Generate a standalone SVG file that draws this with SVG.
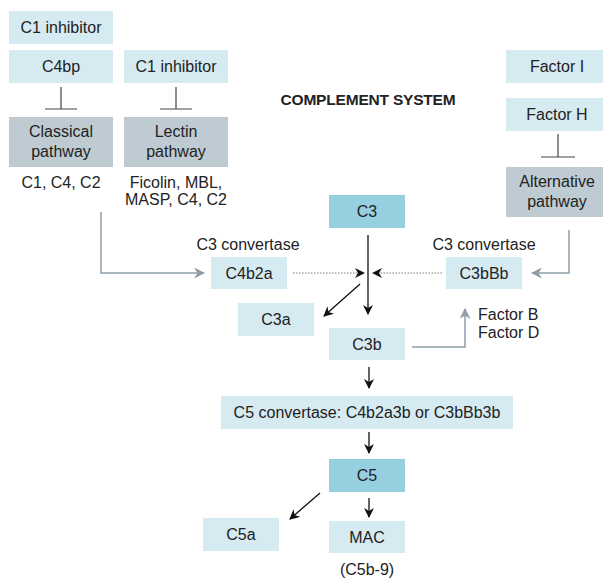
<svg xmlns="http://www.w3.org/2000/svg" width="603" height="580" viewBox="0 0 603 580">
<defs>
<style>
text{font-family:"Liberation Sans",Arial,sans-serif;font-size:16px;fill:#222;text-anchor:middle}
.lb{fill:#d6eaf1}
.db{fill:#96d0e0}
.gp{fill:#bfcbd2}
.title{font-weight:bold;font-size:15.5px;letter-spacing:-0.2px}
.inh{stroke:#444;stroke-width:1.2;fill:none}
.blk{stroke:#111;stroke-width:1.3;fill:none}
.dot{stroke:#777;stroke-width:1.2;stroke-dasharray:1.5 1.5;fill:none}
.gry{stroke:#8d9ea9;stroke-width:1.5;fill:none}
</style>
<marker id="ab" viewBox="0 0 10 10" refX="9" refY="5" markerWidth="10" markerHeight="10" markerUnits="userSpaceOnUse" orient="auto">
<path d="M0,0 L10,5 L0,10 L3,5 Z" fill="#111"/>
</marker>
<marker id="ag" viewBox="0 0 10 10" refX="9" refY="5" markerWidth="11" markerHeight="11" markerUnits="userSpaceOnUse" orient="auto">
<path d="M0,0 L10,5 L0,10 L3,5 Z" fill="#8d9ea9"/>
</marker>
</defs>
<rect width="603" height="580" fill="#fff"/>
<text class="title" x="368" y="105">COMPLEMENT SYSTEM</text>

<g id="c1inh-classical"><rect class="lb" x="9" y="11" width="104" height="33"/><text x="61" y="33">C1 inhibitor</text></g>
<g id="c4bp"><rect class="lb" x="9" y="50" width="104" height="33"/><text x="61" y="72">C4bp</text></g>
<g id="c1inh-lectin"><rect class="lb" x="124" y="50" width="104" height="33"/><text x="176" y="72">C1 inhibitor</text></g>
<g id="classical"><rect class="gp" x="9" y="117" width="104" height="50"/><text x="61" y="137">Classical</text><text x="61" y="157">pathway</text><text x="61" y="188">C1, C4, C2</text></g>
<g id="lectin"><rect class="gp" x="124" y="117" width="104" height="50"/><text x="176" y="137">Lectin</text><text x="176" y="157">pathway</text><text x="176" y="188">Ficolin, MBL,</text><text x="176" y="205">MASP, C4, C2</text></g>
<g id="factorI"><rect class="lb" x="506" y="50" width="97" height="33"/><text x="557" y="72">Factor I</text></g>
<g id="factorH"><rect class="lb" x="506" y="98" width="97" height="33"/><text x="557" y="120">Factor H</text></g>
<g id="alternative"><rect class="gp" x="506" y="167" width="97" height="50"/><text x="557" y="187">Alternative</text><text x="557" y="207">pathway</text></g>
<g id="c3"><rect class="db" x="329" y="195" width="76" height="33"/><text x="367" y="217">C3</text></g>
<g id="c4b2a"><text x="248" y="250">C3 convertase</text><rect class="lb" x="211" y="257" width="76" height="32"/><text x="249" y="279">C4b2a</text></g>
<g id="c3bbb"><text x="484" y="250">C3 convertase</text><rect class="lb" x="446" y="257" width="76" height="32"/><text x="484" y="279">C3bBb</text></g>
<g id="c3a"><rect class="lb" x="238" y="303" width="76" height="33"/><text x="276" y="325">C3a</text></g>
<g id="c3b"><rect class="lb" x="329" y="328" width="76" height="32"/><text x="367" y="350">C3b</text></g>
<g id="factorBD"><text x="478" y="320" style="text-anchor:start">Factor B</text><text x="478" y="338" style="text-anchor:start">Factor D</text></g>
<g id="c5conv"><rect class="lb" x="221" y="396" width="292" height="33"/><text x="367" y="418">C5 convertase: C4b2a3b or C3bBb3b</text></g>
<g id="c5"><rect class="db" x="329" y="459" width="76" height="33"/><text x="367" y="481">C5</text></g>
<g id="c5a"><rect class="lb" x="203" y="518" width="76" height="33"/><text x="241" y="540">C5a</text></g>
<g id="mac"><rect class="lb" x="329" y="521" width="76" height="32"/><text x="367" y="543">MAC</text><text x="367" y="575">(C5b-9)</text></g>

<g id="connectors">
<path class="inh" d="M61,87 V109 M45,109 H77"/>
<path class="inh" d="M176,87 V109 M160,109 H192"/>
<path class="inh" d="M558,134 V157 M541,157 H575"/>
<path class="gry" d="M101,212 V273 H204" marker-end="url(#ag)"/>
<path class="gry" d="M569,230 V273 H532" marker-end="url(#ag)"/>
<path class="gry" d="M412,347 H465 V309" marker-end="url(#ag)"/>
<path class="dot" d="M293,273 H364" marker-end="url(#ab)"/>
<path class="dot" d="M442,273 H373" marker-end="url(#ab)"/>
<path class="blk" d="M368,235 V314" marker-end="url(#ab)"/>
<path class="blk" d="M360,284 L324,316" marker-end="url(#ab)"/>
<path class="blk" d="M369,367 V388" marker-end="url(#ab)"/>
<path class="blk" d="M369,432 V453" marker-end="url(#ab)"/>
<path class="blk" d="M320,493 L290,519" marker-end="url(#ab)"/>
<path class="blk" d="M369,498 V517" marker-end="url(#ab)"/>
</g>
</svg>
